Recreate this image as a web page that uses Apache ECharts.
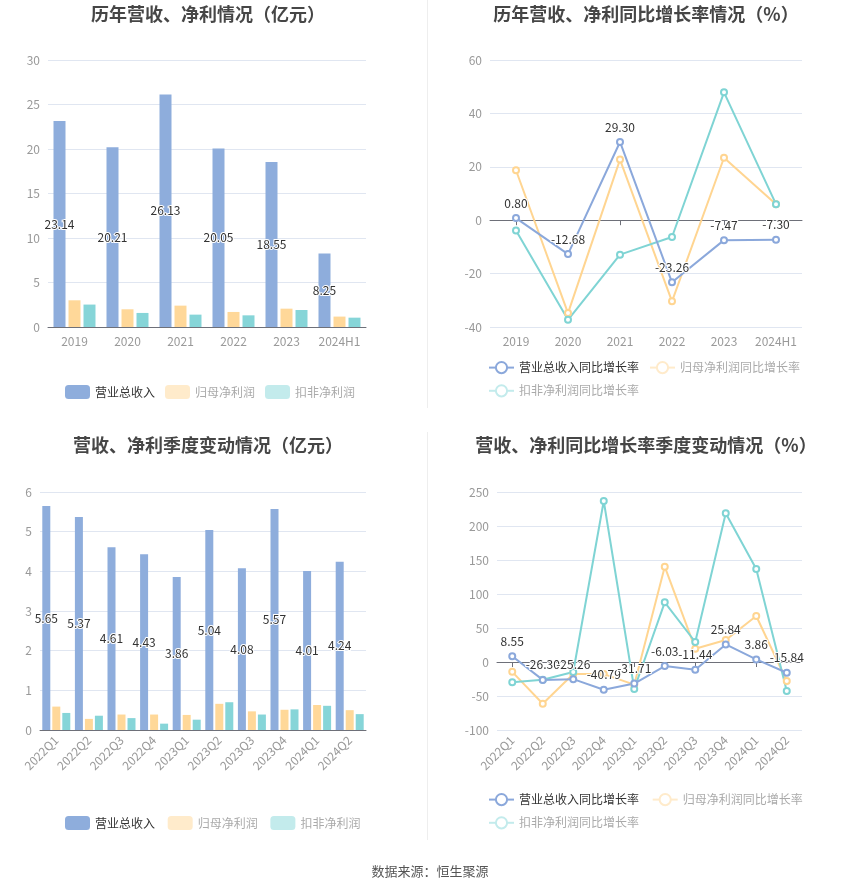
<!DOCTYPE html>
<html><head><meta charset="utf-8">
<script src="https://cdn.jsdelivr.net/npm/echarts@6/dist/echarts.min.js"></script>
<style>html,body{margin:0;padding:0;background:#fff}#c{width:850px;height:891px}</style>
</head><body><div id="c"></div>
<script>
const years = ['2019','2020','2021','2022','2023','2024H1'];
const yearRevenue = [23.14, 20.21, 26.13, 20.05, 18.55, 8.25];
const yearNetProfit = [3.00, 1.99, 2.40, 1.69, 2.06, 1.17];
const yearDeductProfit = [2.52, 1.58, 1.39, 1.31, 1.91, 1.05];
const yearRevenueGrowth = [0.80, -12.68, 29.30, -23.26, -7.47, -7.30];
const yearNetGrowth = [18.7, -34.8, 22.7, -30.4, 23.4, 6.0];
const yearDeductGrowth = [-3.9, -37.3, -12.9, -6.3, 47.9, 6.0];

const quarters = ['2022Q1','2022Q2','2022Q3','2022Q4','2023Q1','2023Q2','2023Q3','2023Q4','2024Q1','2024Q2'];
const qRevenue = [5.65, 5.37, 4.61, 4.43, 3.86, 5.04, 4.08, 5.57, 4.01, 4.24];
const qNetProfit = [0.59, 0.28, 0.39, 0.39, 0.38, 0.66, 0.47, 0.51, 0.63, 0.50];
const qDeductProfit = [0.43, 0.36, 0.30, 0.16, 0.26, 0.70, 0.39, 0.52, 0.61, 0.40];
const qRevenueGrowth = [8.55, -26.30, -25.26, -40.79, -31.71, -6.03, -11.44, 25.84, 3.86, -15.84];
const qNetGrowth = [-14.5, -61.3, -17.6, -17.8, -33.3, 140.2, 19.6, 32.4, 67.6, -28.0];
const qDeductGrowth = [-29.8, -26.0, -14.7, 236.8, -39.7, 87.7, 29.4, 218.6, 136.8, -42.6];

const yTicksTL = {min:0, max:30, interval:5};
const yTicksTR = {min:-40, max:60, interval:20};
const yTicksBL = {min:0, max:6, interval:1};
const yTicksBR = {min:-100, max:250, interval:50};

const C_BLUE = '#8EADDC', C_YEL = '#FFD899', C_TEAL = '#86D5D8';
const L_BLUE = '#8BA8DB', L_YEL = '#FFD591', L_TEAL = '#7FD4D4';
const FONT = '"Noto Sans CJK SC","Noto Sans",sans-serif';

const chart = echarts.init(document.getElementById('c'), null, {renderer:'canvas'});

const grids = [
  {left:48, top:60, width:318, height:267},
  {left:490, top:60, width:312, height:267},
  {left:40, top:492, width:326, height:238},
  {left:497, top:492, width:305, height:238}
];

const labelStyle = {color:'#333', fontSize:12, fontFamily:FONT, textBorderColor:'#fff', textBorderWidth:2};
const axisLabelStyle = {color:'#999', fontSize:12, fontFamily:FONT};
const splitLine = {show:true, lineStyle:{color:'#E0E6F1'}};

function yAxis(g, t){
  return {type:'value', gridIndex:g, min:t.min, max:t.max, interval:t.interval,
    axisLine:{show:false}, axisTick:{show:false}, axisLabel:axisLabelStyle, splitLine};
}
function barX(g, data, rotate){
  return {type:'category', gridIndex:g, data, position:'bottom', axisTick:{alignWithLabel:true, lineStyle:{color:'#6E7079'}},
    axisLine:{lineStyle:{color:'#6E7079'}}, axisLabel:Object.assign({rotate:rotate, interval:0}, axisLabelStyle)};
}
function lineXLabels(g, data, rotate){
  return {type:'category', gridIndex:g, data, position:'bottom', boundaryGap:true,
    axisLine:{show:false, onZero:false}, axisTick:{show:false},
    axisLabel:Object.assign({rotate:rotate, interval:0}, axisLabelStyle)};
}
function lineXZero(g, data){
  return {type:'category', gridIndex:g, data, position:'bottom', boundaryGap:true,
    axisLine:{show:true, onZero:true, lineStyle:{color:'#6E7079'}},
    axisTick:{show:true, inside:false, alignWithLabel:true, lineStyle:{color:'#6E7079'}},
    axisLabel:{show:false}};
}

function bars(name, data, color, xi, yi, bw, label){
  return {name, type:'bar', xAxisIndex:xi, yAxisIndex:yi, data, barWidth:bw, barGap:'25%',
    itemStyle:{color},
    label: label ? Object.assign({show:true, position:'inside', formatter:p=>p.value.toFixed(2)}, labelStyle) : {show:false}};
}
function lines(name, data, color, xi, yi, label){
  return {name, type:'line', xAxisIndex:xi, yAxisIndex:yi, data, symbol:'emptyCircle', symbolSize:6,
    lineStyle:{color, width:2}, itemStyle:{color, borderWidth:2},
    label: label ? Object.assign({show:true, position:'top', formatter:p=>p.value.toFixed(2)}, labelStyle) : {show:false}};
}

const legendTextDim = {color:'#aaa', fontSize:12, fontFamily:FONT};
const legendTextMain = {color:'#333', fontSize:12, fontFamily:FONT};

function barLegend(top, names){
  return {left:60, top, itemWidth:25, itemHeight:14, itemGap:10,
    data:[
      {name:names[0], textStyle:legendTextMain, itemStyle:{color:C_BLUE}},
      {name:names[1], textStyle:legendTextDim, itemStyle:{color:'#FFEBCB'}},
      {name:names[2], textStyle:legendTextDim, itemStyle:{color:'#C3EBEC'}}
    ]};
}
function lineLegend(top, names){
  return {left:483, top, width:330, itemWidth:25, itemHeight:14, itemGap:10,
    data:[
      {name:names[0], textStyle:legendTextMain},
      {name:names[1], textStyle:legendTextDim, itemStyle:{color:'#FFEBCB'}, lineStyle:{color:'#FFEBCB'}},
      {name:names[2], textStyle:legendTextDim, itemStyle:{color:'#C3EBEC'}, lineStyle:{color:'#C3EBEC'}}
    ]};
}

const barNamesA = ['营业总收入','归母净利润','扣非净利润'];
const barNamesB = ['营业总收入 ','归母净利润 ','扣非净利润 '];
const lineNamesA = ['营业总收入同比增长率','归母净利润同比增长率','扣非净利润同比增长率'];
const lineNamesB = ['营业总收入同比增长率 ','归母净利润同比增长率 ','扣非净利润同比增长率 '];

const titleStyle = {color:'#464646', fontSize:18, fontWeight:'bold', fontFamily:FONT};

const option = {
  animation:false,
  backgroundColor:'#fff',
  title:[
    {text:'历年营收、净利情况（亿元）', left:203, top:0, textAlign:'center', textStyle:titleStyle},
    {text:'历年营收、净利同比增长率情况（%）', left:641, top:0, textAlign:'center', textStyle:titleStyle},
    {text:'营收、净利季度变动情况（亿元）', left:203, top:431, textAlign:'center', textStyle:titleStyle},
    {text:'营收、净利同比增长率季度变动情况（%）', left:641, top:431, textAlign:'center', textStyle:titleStyle},
    {text:'数据来源：恒生聚源', left:425, top:860, textAlign:'center', textStyle:{color:'#555', fontSize:13, fontWeight:'normal', fontFamily:FONT}}
  ],
  legend:[
    barLegend(380, barNamesA),
    lineLegend(356, lineNamesA),
    barLegend(811, barNamesB),
    lineLegend(788, lineNamesB)
  ],
  grid:grids,
  xAxis:[
    barX(0, years, 0),
    lineXLabels(1, years, 0),
    lineXZero(1, years),
    barX(2, quarters, 45),
    lineXLabels(3, quarters, 45),
    lineXZero(3, quarters)
  ],
  yAxis:[yAxis(0, yTicksTL), yAxis(1, yTicksTR), yAxis(2, yTicksBL), yAxis(3, yTicksBR)],
  series:[
    bars(barNamesA[0], yearRevenue, C_BLUE, 0, 0, 12, true),
    bars(barNamesA[1], yearNetProfit, C_YEL, 0, 0, 12, false),
    bars(barNamesA[2], yearDeductProfit, C_TEAL, 0, 0, 12, false),
    lines(lineNamesA[1], yearNetGrowth, L_YEL, 1, 1, false),
    lines(lineNamesA[2], yearDeductGrowth, L_TEAL, 1, 1, false),
    lines(lineNamesA[0], yearRevenueGrowth, L_BLUE, 1, 1, true),
    bars(barNamesB[0], qRevenue, C_BLUE, 3, 2, 8, true),
    bars(barNamesB[1], qNetProfit, C_YEL, 3, 2, 8, false),
    bars(barNamesB[2], qDeductProfit, C_TEAL, 3, 2, 8, false),
    lines(lineNamesB[1], qNetGrowth, L_YEL, 4, 3, false),
    lines(lineNamesB[2], qDeductGrowth, L_TEAL, 4, 3, false),
    lines(lineNamesB[0], qRevenueGrowth, L_BLUE, 4, 3, true)
  ],
  graphic:[
    {type:'line', shape:{x1:427.5, y1:0, x2:427.5, y2:408}, style:{stroke:'#eee', lineWidth:1}},
    {type:'line', shape:{x1:427.5, y1:432, x2:427.5, y2:840}, style:{stroke:'#eee', lineWidth:1}}
  ]
};
chart.setOption(option);
</script>
</body></html>
